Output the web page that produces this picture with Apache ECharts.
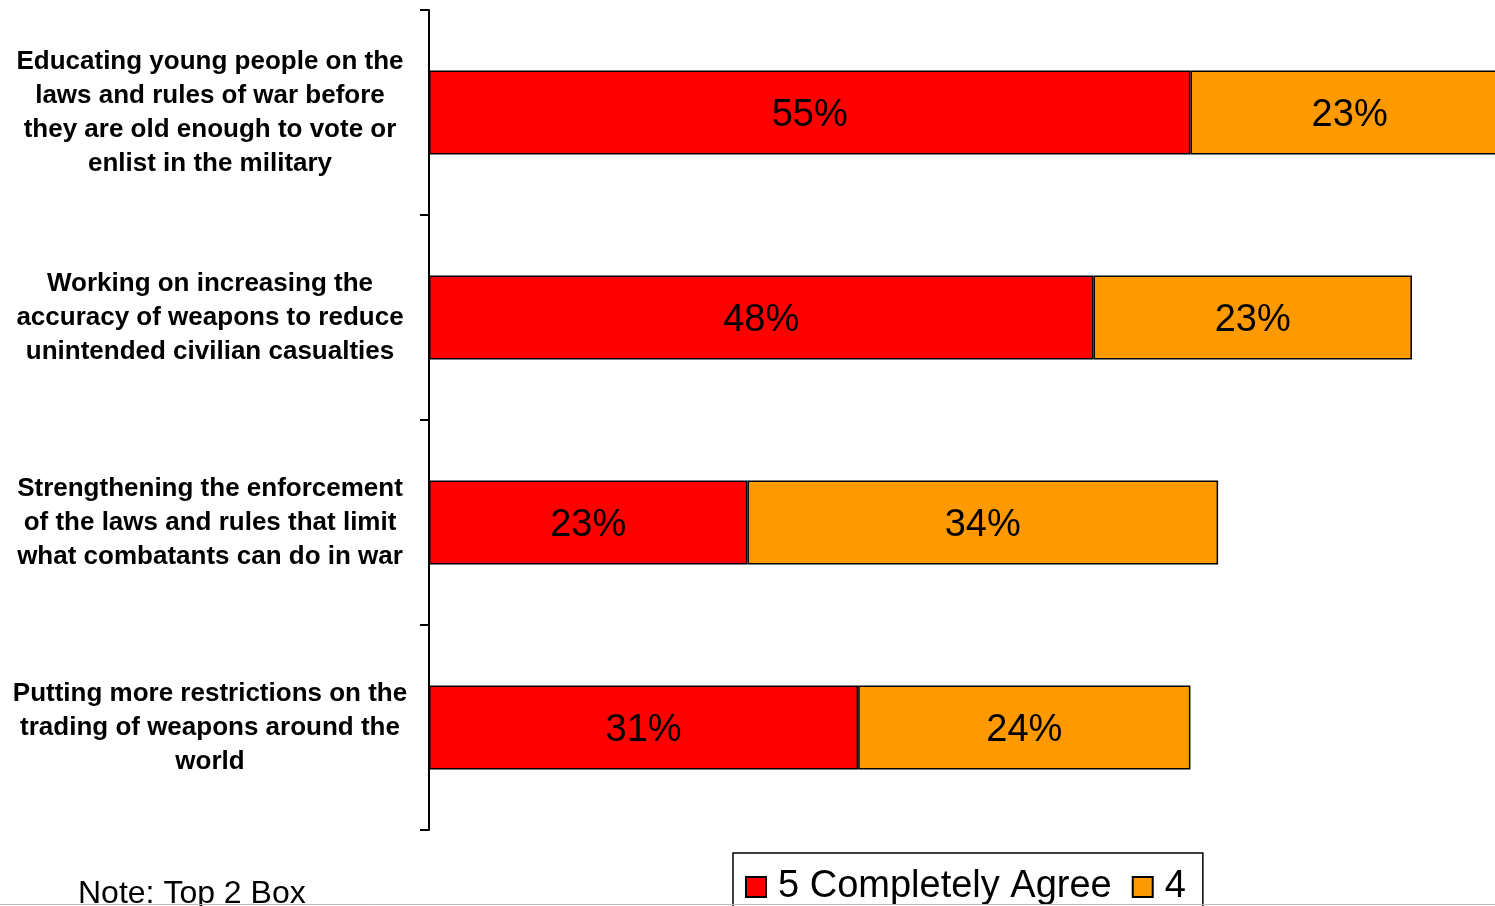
<!DOCTYPE html>
<html>
<head>
<meta charset="utf-8">
<script src="https://cdn.jsdelivr.net/npm/echarts@6/dist/echarts.min.js"></script>
<style>
html,body{margin:0;padding:0;background:#fff;}
#chart{width:1495px;height:906px;}
</style>
</head>
<body>
<div id="chart"></div>
<script>
const categories = [
  "Educating young people on the\nlaws and rules of war before\nthey are old enough to vote or\nenlist in the military",
  "Working on increasing the\naccuracy of weapons to reduce\nunintended civilian casualties",
  "Strengthening the enforcement\nof the laws and rules that limit\nwhat combatants can do in war",
  "Putting more restrictions on the\ntrading of weapons around the\nworld"
];
const seriesNames = ["5 Completely Agree", "4"];
const completelyAgree = [55, 48, 23, 31];
const agree4 = [23, 23, 34, 24];
const noteText = "Note: Top 2 Box";

const FONT = "'Liberation Sans', Arial, sans-serif";
const chart = echarts.init(document.getElementById('chart'));

const barLabel = {
  show: true,
  position: 'inside',
  formatter: '{c}%',
  color: '#000',
  fontSize: 38,
  fontFamily: FONT,
  offset: [0, 3]
};

chart.setOption({
  animation: false,
  backgroundColor: '#fff',
  grid: { left: 429, top: 10, right: 0, bottom: 76, containLabel: false },
  xAxis: {
    type: 'value', min: 0, max: 77,
    show: false
  },
  yAxis: {
    type: 'category',
    data: categories,
    inverse: true,
    axisLine: { show: true, lineStyle: { color: '#000', width: 2 } },
    axisTick: { show: true, length: 9, lineStyle: { color: '#000', width: 2 } },
    axisLabel: {
      align: 'center',
      margin: 219,
      color: '#000',
      fontSize: 26,
      fontWeight: 'bold',
      fontFamily: FONT,
      lineHeight: 34,
      padding: [4, 0, 0, 0]
    },
    splitLine: { show: false }
  },
  legend: {
    data: seriesNames,
    left: 733,
    top: 853,
    orient: 'horizontal',
    backgroundColor: '#fff',
    borderColor: '#000',
    borderWidth: 1.5,
    padding: [15, 17, 30, 12],
    itemGap: 20,
    itemWidth: 20,
    itemHeight: 20,
    icon: 'rect',
    textStyle: { fontSize: 38, color: '#000', fontFamily: FONT, padding: [0, 0, 0, 7] }
  },
  graphic: [
    {
      type: 'text', left: 78, top: 878,
      style: { text: noteText, fontSize: 32, fill: '#000', fontFamily: FONT }
    },
    {
      type: 'line', z: 100,
      shape: { x1: 0, y1: 904.5, x2: 1495, y2: 904.5 },
      style: { stroke: '#bbbbbb', lineWidth: 1 }
    }
  ],
  series: [
    {
      name: seriesNames[0], type: 'bar', stack: 'total',
      data: completelyAgree, barWidth: 84, clip: false,
      itemStyle: { color: '#FF0000', borderColor: '#000', borderWidth: 1.5 },
      label: barLabel
    },
    {
      name: seriesNames[1], type: 'bar', stack: 'total',
      data: agree4, barWidth: 84, clip: false,
      itemStyle: { color: '#FF9900', borderColor: '#000', borderWidth: 1.5 },
      label: barLabel
    }
  ]
});
</script>
</body>
</html>
